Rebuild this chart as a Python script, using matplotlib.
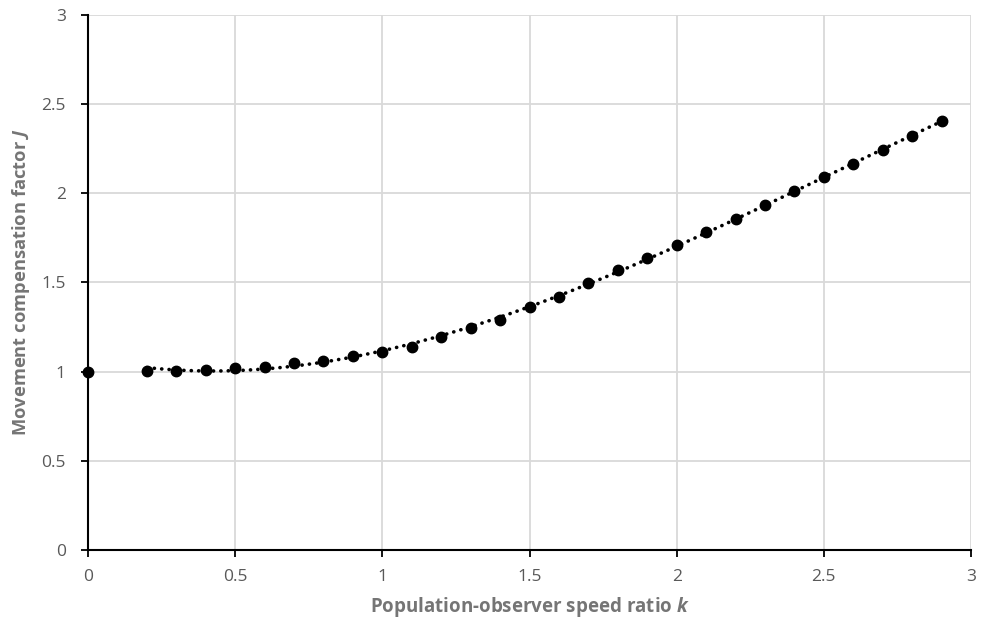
import numpy as np
import matplotlib
matplotlib.use("Agg")
import matplotlib.pyplot as plt

plt.rcParams['font.family'] = ['Open Sans', 'DejaVu Sans']
plt.rcParams['mathtext.fontset'] = 'custom'
plt.rcParams['mathtext.it'] = 'Open Sans:bold:italic'
plt.rcParams['mathtext.rm'] = 'Open Sans:bold'

k = [0.0, 0.2, 0.3, 0.4, 0.5, 0.6, 0.7, 0.8, 0.9, 1.0, 1.1, 1.2, 1.3, 1.4, 1.5,
     1.6, 1.7, 1.8, 1.9, 2.0, 2.1, 2.2, 2.3, 2.4, 2.5, 2.6, 2.7, 2.8, 2.9]
J = [1.000, 1.004, 1.004, 1.012, 1.020, 1.027, 1.048, 1.057, 1.088, 1.110, 1.141,
     1.196, 1.242, 1.288, 1.363, 1.420, 1.496, 1.568, 1.636, 1.711, 1.783, 1.857,
     1.936, 2.012, 2.089, 2.165, 2.243, 2.322, 2.406]
xticks = [0, 0.5, 1, 1.5, 2, 2.5, 3]
yticks = [0, 0.5, 1, 1.5, 2, 2.5, 3]
xtick_labels = ['0', '0.5', '1', '1.5', '2', '2.5', '3']
ytick_labels = ['0', '0.5', '1', '1.5', '2', '2.5', '3']

fig = plt.figure(figsize=(9.87, 6.24), dpi=100)
ax = fig.add_axes([0.0892, 0.1186, 0.8946, 0.8574])

# polynomial trendline over k >= 0.2
kt = np.array(k[1:])
Jt = np.array(J[1:])
coef = np.polyfit(kt, Jt, 3)
kk = np.linspace(kt.min(), kt.max(), 400)
ax.plot(kk, np.polyval(coef, kk), color='black', lw=2.6,
        linestyle=(0, (0.05, 2.0)), dash_capstyle='round', zorder=3)

ax.plot(k, J, 'o', color='black', markersize=7.5, clip_on=False, zorder=4)

ax.set_xlim(0, 3)
ax.set_ylim(0, 3)
ax.set_xticks(xticks)
ax.set_xticklabels(xtick_labels)
ax.set_yticks(yticks)
ax.set_yticklabels(ytick_labels)
ax.grid(True, color='#d9d9d9', lw=1.3)
ax.set_axisbelow(True)
for s in ['top', 'right']:
    ax.spines[s].set_visible(False)
for s in ['left', 'bottom']:
    ax.spines[s].set_color('black')
    ax.spines[s].set_linewidth(1.5)
ax.tick_params(axis='both', direction='out', length=5, width=1.3, color='black',
               labelcolor='#595959', labelsize=12.5)
ax.tick_params(axis='x', pad=9)
ax.tick_params(axis='y', pad=11)

ax.set_xlabel('Population-observer speed ratio $k$', fontsize=13.5, fontweight='bold',
              color='#757575', labelpad=7)
ax.set_ylabel('Movement compensation factor $J$', fontsize=13.2, fontweight='bold',
              color='#757575', labelpad=7)

fig.savefig('out.png', dpi=100)
